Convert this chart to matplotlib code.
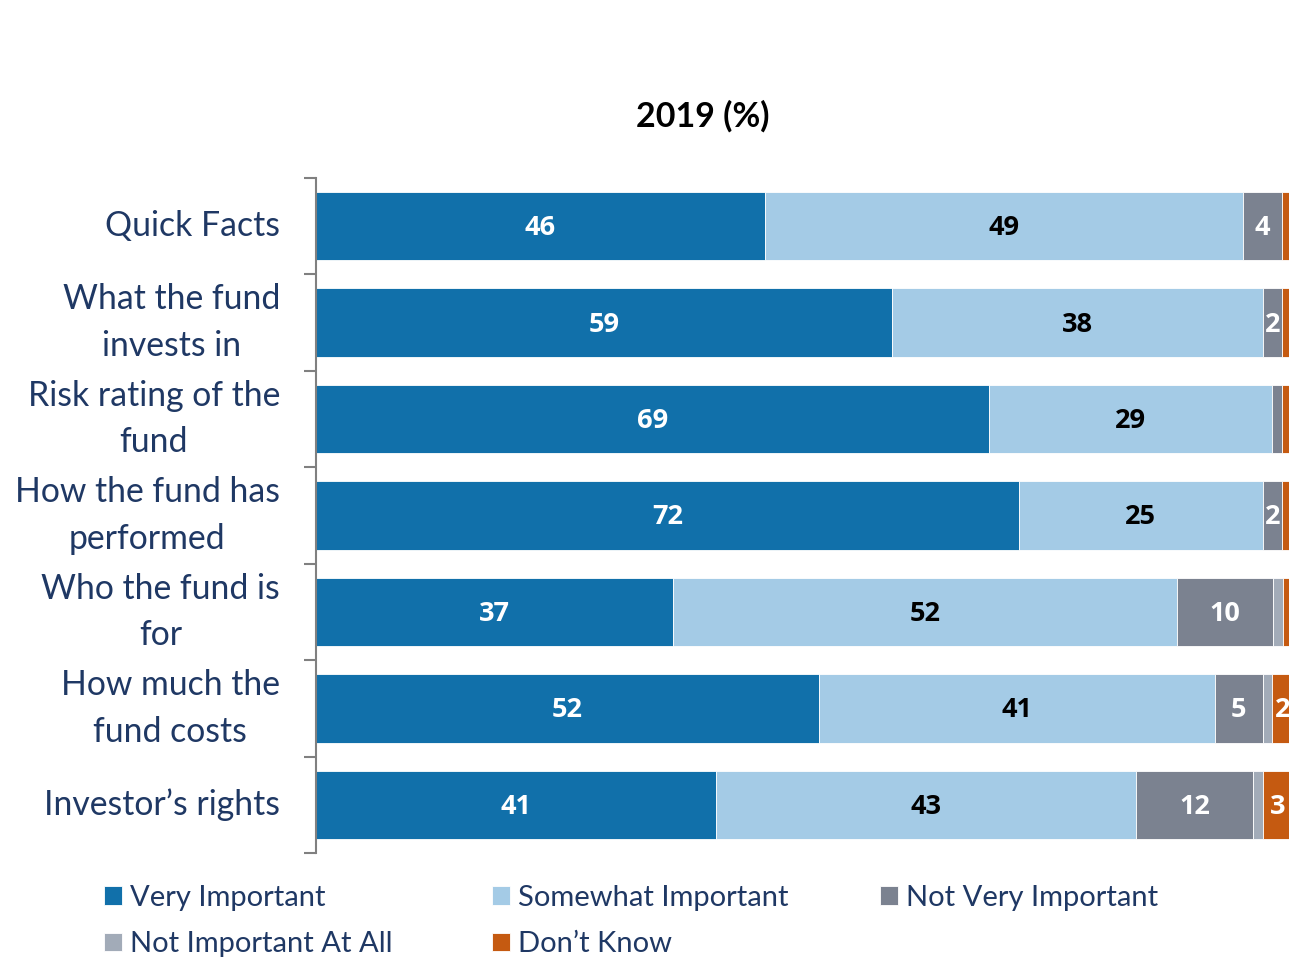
import numpy as np
import matplotlib.pyplot as plt

plt.rcParams['font.family'] = ['Lato', 'DejaVu Sans']

# survey items, top to bottom
items = ['Quick Facts', 'What the fund\ninvests in', 'Risk rating of the\nfund',
         'How the fund has\nperformed', 'Who the fund is\nfor',
         'How much the\nfund costs', 'Investor\u2019s rights']

# shares in percent (labels show them rounded)
very_important = [46, 59, 69, 72, 36.6, 51.5, 41]
somewhat_important = [49, 38, 29, 25, 51.6, 40.6, 43]
not_very_important = [4, 2, 1, 2, 9.9, 4.9, 12]
not_important_at_all = [0, 0, 0, 0, 1.0, 1.0, 1]
dont_know = [1, 1, 1, 1, 0.9, 2.0, 3]

series = ['Very Important', 'Somewhat Important', 'Not Very Important',
          'Not Important At All', 'Don\u2019t Know']
values = [very_important, somewhat_important, not_very_important,
          not_important_at_all, dont_know]
colors = ['#1170AA', '#A4CBE6', '#7B8290', '#A2ABB8', '#C55A11']
label_colors = ['white', 'black', 'white', None, 'white']
navy = '#1F3864'

W, H = 1289, 958
fig = plt.figure(figsize=(W / 100, H / 100), dpi=100)
ax = fig.add_axes([316 / W, 1 - 853 / H, (1292 - 316) / W, (853 - 178) / H])

y = np.arange(len(items))
left = np.zeros(len(items))
bars = []
for name, vals, col, lc in zip(series, values, colors, label_colors):
    vals = np.array(vals, dtype=float)
    b = ax.barh(y, vals, left=left, height=0.71, color=col,
                edgecolor='white', linewidth=0.6, label=name)
    bars.append(b)
    if lc is not None:
        for yi, l, v in zip(y, left, vals):
            if v >= 1.5:
                ax.text(l + v / 2, yi + 0.02, f'{v:.0f}', ha='center',
                        va='center', color=lc, fontsize=19.5,
                        fontweight='bold', family='Open Sans')
    left += vals

ax.set_xlim(0, 100)
ax.set_ylim(len(items) - 0.5, -0.5)
ax.set_xticks([])
for s in ['top', 'right', 'bottom']:
    ax.spines[s].set_visible(False)
ax.spines['left'].set_color('#808080')
ax.spines['left'].set_linewidth(1.5)

# category names on the major ticks, boundary marks on the minor ticks
ax.set_yticks(y)
ax.set_yticklabels(items, fontsize=24.3, color=navy, linespacing=1.55,
                   multialignment='center', va='center')
ax.tick_params(axis='y', which='major', length=0, pad=26)
ax.set_yticks(np.arange(len(items) + 1) - 0.5, minor=True)
ax.tick_params(axis='y', which='minor', length=9, width=1.5, color='#808080')

fig.text(703 / W, 1 - 116 / H, '2019 (%)', ha='center', va='center',
         fontsize=24.5, fontweight='bold', color='black')

# legend laid out in three fixed columns
columns = [[0, 3], [1, 4], [2]]
col_x = [104, 492, 880]
for cx, idx in zip(col_x, columns):
    fig.legend([bars[i] for i in idx], [series[i] for i in idx],
               loc='upper left', bbox_to_anchor=(cx / W, 1 - 885 / H),
               frameon=False, fontsize=21, labelcolor=navy,
               handlelength=0.6, handleheight=0.6, handletextpad=0.3,
               labelspacing=0.69, borderpad=0, borderaxespad=0)

fig.savefig('out.png', dpi=100)
